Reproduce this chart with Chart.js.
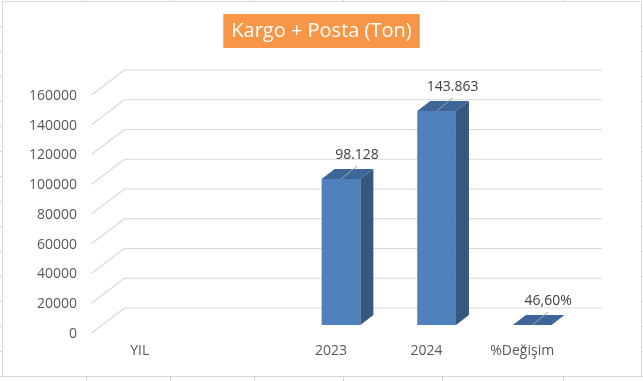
<!DOCTYPE html>
<html><head><meta charset="utf-8">
<script src="https://cdn.jsdelivr.net/npm/chart.js@4/dist/chart.umd.min.js"></script>
<style>html,body{margin:0;padding:0;background:#fff;overflow:hidden}#wrap{width:643px;height:381px;position:relative}canvas{display:block}</style>
</head><body><div id="wrap"><canvas id="c" width="643" height="381"></canvas></div>
<script>
// ---- data ----
const categories = ['YIL', '', '2023', '2024', '%Değişim'];
const cargoMailTons = [null, null, 98128, 143863, 0.466];
const yAxisMin = 0;
const yAxisMax = 160000;
const yAxisStep = 20000;
const titleText = 'Kargo + Posta (Ton)';

// ---- style ----
const SLOPE = 1.32;            // horizontal shift per vertical px of depth
const FRONT_DY = 8, BACK_DY = 17;
const BAR_DX = 13, BAR_DY = 10;
const GRID = '#D9D9D9';
const FRONT = '#4F81BD', SIDE = '#36587F', TOP = '#3E6699';
const FONT = '"Open Sans", "Liberation Sans", sans-serif';

function fmtLabel(i, v) {
  if (categories[i].startsWith('%')) return (v * 100).toFixed(2).replace('.', ',') + '%';
  return v.toLocaleString('de-DE');
}

const framePlugin = {
  id: 'frame',
  beforeDraw(chart) {
    const ctx = chart.ctx, W = chart.width, H = chart.height;
    ctx.save();
    ctx.fillStyle = '#fff'; ctx.fillRect(0, 0, W, H);
    ctx.strokeStyle = '#D4D4D4'; ctx.lineWidth = 1;
    ctx.beginPath();
    [86, 170, 254, 343, 442, 563].forEach(x => { ctx.moveTo(x + .5, 0); ctx.lineTo(x + .5, 1); ctx.moveTo(x + .5, 377); ctx.lineTo(x + .5, H); });
    for (let y = 26; y < H; y += 25) { ctx.moveTo(0, y + .5); ctx.lineTo(2, y + .5); ctx.moveTo(642, y + .5); ctx.lineTo(W, y + .5); }
    ctx.stroke();
    ctx.strokeStyle = '#D9D9D9';
    ctx.strokeRect(2.5, 1.5, 639, 375);
    // title box
    const tb = chart.titleBlock, o = tb.options;
    ctx.font = `${o.font.size}px ${o.font.family}`;
    const w = ctx.measureText(titleText).width;
    const cx = (tb.left + tb.right) / 2;
    const cy = tb.top + o.padding.top + o.font.size * o.font.lineHeight / 2;
    ctx.fillStyle = '#F79646';
    ctx.fillRect(cx - w / 2 - 8, cy - 17, w + 16, 34);
    ctx.restore();
  }
};

const gridPlugin = {
  id: 'grid3d',
  beforeDatasetsDraw(chart) {
    const ctx = chart.ctx, ys = chart.scales.y, a = chart.chartArea;
    ctx.save();
    ctx.strokeStyle = GRID; ctx.lineWidth = 1.2;
    ys.ticks.forEach(t => {
      const y = ys.getPixelForValue(t.value);
      ctx.beginPath();
      ctx.moveTo(a.left - FRONT_DY * SLOPE, y + FRONT_DY);
      ctx.lineTo(a.left + BACK_DY * SLOPE, y - BACK_DY);
      ctx.lineTo(a.right + BACK_DY * SLOPE, y - BACK_DY);
      ctx.stroke();
    });
    ctx.restore();
  }
};

const bar3dPlugin = {
  id: 'bar3d',
  afterDatasetsDraw(chart) {
    const ctx = chart.ctx, meta = chart.getDatasetMeta(0);
    ctx.save();
    meta.data.forEach((el, i) => {
      const v = cargoMailTons[i];
      if (v === null) return;
      const p = el.getProps(['x', 'y', 'base', 'width'], true);
      const l = p.x - p.width / 2, r = p.x + p.width / 2, top = p.y, base = p.base;
      ctx.fillStyle = SIDE;
      ctx.beginPath();
      ctx.moveTo(r, top); ctx.lineTo(r + BAR_DX, top - BAR_DY); ctx.lineTo(r + BAR_DX, base - BAR_DY); ctx.lineTo(r, base);
      ctx.closePath(); ctx.fill();
      ctx.fillStyle = TOP;
      ctx.beginPath();
      ctx.moveTo(l, top); ctx.lineTo(r, top); ctx.lineTo(r + BAR_DX, top - BAR_DY); ctx.lineTo(l + BAR_DX, top - BAR_DY);
      ctx.closePath(); ctx.fill();
      // leader + label
      ctx.strokeStyle = '#A6A6A6'; ctx.lineWidth = 1;
      ctx.beginPath(); ctx.moveTo(p.x, top); ctx.lineTo(p.x + 16, top - 13); ctx.stroke();
      ctx.fillStyle = '#404040';
      ctx.font = `14px ${FONT}`;
      ctx.textAlign = 'center'; ctx.textBaseline = 'middle';
      ctx.fillText(fmtLabel(i, v), p.x + 16, top - 24);
    });
    ctx.restore();
  }
};

new Chart(document.getElementById('c'), {
  type: 'bar',
  data: {
    labels: categories,
    datasets: [{ data: cargoMailTons, backgroundColor: FRONT, borderWidth: 0, categoryPercentage: 1, barPercentage: 0.405 }]
  },
  options: {
    responsive: false, animation: false, devicePixelRatio: 1,
    layout: { padding: { left: 0, right: 0, top: 0, bottom: 0 } },
    plugins: {
      legend: { display: false }, tooltip: { enabled: false },
      title: { display: true, text: titleText, color: '#FFFFFF',
        font: { family: FONT, size: 20, weight: 'normal', lineHeight: 1.2 },
        padding: { top: 19, bottom: 44 } }
    },
    scales: {
      x: {
        grid: { display: false, drawTicks: false }, border: { display: false },
        ticks: { color: '#595959', font: { family: FONT, size: 14 }, padding: 18, labelOffset: -10, maxRotation: 0, autoSkip: false },
        afterFit: s => { s.height = 56; }
      },
      y: {
        min: yAxisMin, max: yAxisMax,
        grid: { display: false, drawTicks: false }, border: { display: false },
        ticks: { stepSize: yAxisStep, color: '#595959', font: { family: FONT, size: 14 }, padding: 25, labelOffset: 9, callback: v => String(v) },
        afterFit: s => { s.width = 102; }
      },
      y2: {
        position: 'right', display: true,
        grid: { display: false, drawTicks: false }, border: { display: false },
        ticks: { display: false },
        afterFit: s => { s.width = 63; }
      }
    }
  },
  plugins: [framePlugin, gridPlugin, bar3dPlugin]
});
</script></body></html>
